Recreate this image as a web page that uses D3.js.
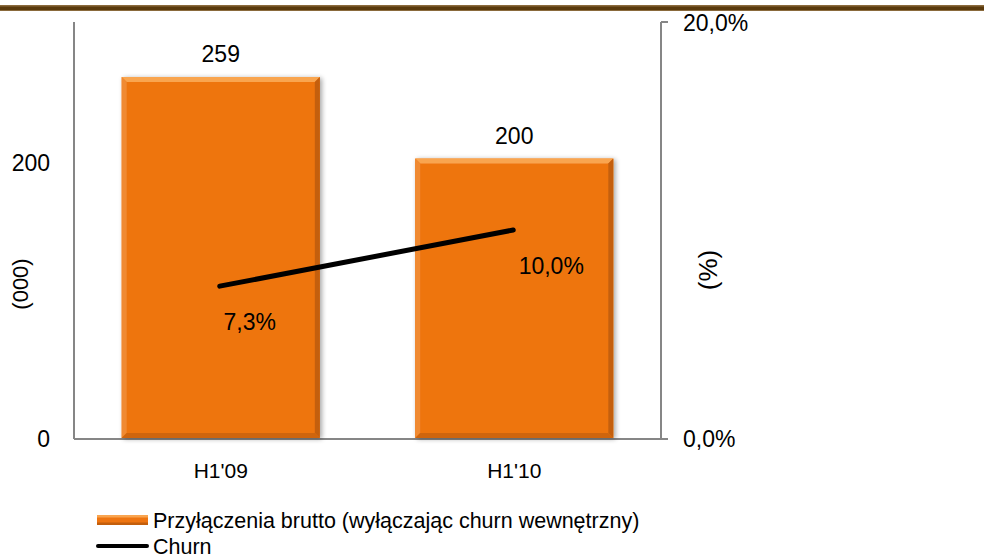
<!DOCTYPE html>
<html>
<head>
<meta charset="utf-8">
<script src="https://cdn.jsdelivr.net/npm/d3@7/dist/d3.min.js"></script>
<style>
  body { margin: 0; background: #fff; }
  text { font-family: "Liberation Sans", Arial, sans-serif; fill: #000; }
</style>
</head>
<body>
<svg id="chart" width="984" height="558"></svg>
<script>
// data
const categories = ["H1'09", "H1'10"];
const grossAdds = [259, 200];
const churn = [7.3, 10.0];
const leftTicks = [0, 200];
const rightTicks = [0, 20];
const barName = "Przyłączenia brutto (wyłączając churn wewnętrzny)";
const lineName = "Churn";

const svg = d3.select("#chart");
const plot = {left: 74, right: 661, top: 22, bottom: 438};

// brown header rule
svg.append("rect").attr("x", 0).attr("y", 5).attr("width", 984).attr("height", 6).attr("fill", "#8a6a3c");
svg.append("rect").attr("x", 0).attr("y", 6.5).attr("width", 984).attr("height", 3.5).attr("fill", "#5a3a0c");

let x = d3.scaleBand()
    .domain(categories)
    .range([plot.left, plot.right])
    .paddingInner(0.325)
    .paddingOuter(0.1625);
let yL = d3.scaleLinear().domain([0, 301]).range([plot.bottom, plot.top]);
let yR = d3.scaleLinear().domain([0, 20]).range([plot.bottom, plot.top]);

let defs = svg.append("defs");
let fl = defs.append("filter").attr("id", "shadow").attr("x", "-10%").attr("y", "-10%").attr("width", "130%").attr("height", "130%");
fl.append("feGaussianBlur").attr("in", "SourceAlpha").attr("stdDeviation", 2.5);
fl.append("feOffset").attr("dx", 2).attr("dy", 1).attr("result", "b");
fl.append("feComponentTransfer").append("feFuncA").attr("type", "linear").attr("slope", 0.35);
let fm = fl.append("feMerge");
fm.append("feMergeNode");
fm.append("feMergeNode").attr("in", "SourceGraphic");

// axes lines
let axes = svg.append("g").attr("stroke", "#868686").attr("stroke-width", 2).attr("fill", "none");
axes.append("line").attr("x1", plot.left).attr("x2", plot.left).attr("y1", plot.top).attr("y2", plot.bottom + 1);
axes.append("line").attr("x1", plot.right).attr("x2", plot.right).attr("y1", plot.top).attr("y2", plot.bottom + 1);
axes.append("line").attr("x1", plot.left).attr("x2", plot.right + 7).attr("y1", plot.bottom + 1).attr("y2", plot.bottom + 1);
axes.append("line").attr("x1", plot.right).attr("x2", plot.right + 7).attr("y1", plot.top).attr("y2", plot.top);

// bars with bevel
let bars = svg.append("g").selectAll("g").data(grossAdds).enter().append("g")
    .attr("filter", "url(#shadow)");
bars.each(function (d, i) {
    let g = d3.select(this);
    let x0 = x(categories[i]), w = x.bandwidth();
    let y0 = yL(d) - 3, y1 = plot.bottom;
    let b = 5;
    g.append("rect").attr("x", x0).attr("y", y0).attr("width", w).attr("height", y1 - y0).attr("fill", "#ee7511");
    g.append("polygon").attr("points", [[x0, y0], [x0 + w, y0], [x0 + w - b, y0 + b], [x0 + b, y0 + b]].join(" ")).attr("fill", "#f9a550");
    g.append("polygon").attr("points", [[x0, y0], [x0 + b, y0 + b], [x0 + b, y1 - b], [x0, y1]].join(" ")).attr("fill", "#f08a30");
    g.append("polygon").attr("points", [[x0 + w, y0], [x0 + w, y1], [x0 + w - b, y1 - b], [x0 + w - b, y0 + b]].join(" ")).attr("fill", "#c45f0c");
    g.append("polygon").attr("points", [[x0, y1], [x0 + w, y1], [x0 + w - b, y1 - b], [x0 + b, y1 - b]].join(" ")).attr("fill", "#cf650e");
});

// bar value labels
svg.append("g").selectAll("text").data(grossAdds).enter().append("text")
    .attr("x", (d, i) => x(categories[i]) + x.bandwidth() / 2)
    .attr("y", d => yL(d) - 18)
    .attr("text-anchor", "middle")
    .style("font-size", "23px")
    .text(d => d);

// churn line
let line = d3.line()
    .x((d, i) => x(categories[i]) + x.bandwidth() / 2 - 1)
    .y(d => yR(d));
svg.append("path").datum(churn).attr("d", line)
    .attr("fill", "none").attr("stroke", "#000").attr("stroke-width", 5).attr("stroke-linecap", "round");

svg.append("g").selectAll("text").data(churn).enter().append("text")
    .attr("x", (d, i) => x(categories[i]) + x.bandwidth() / 2 + 29 + i * 8)
    .attr("y", d => yR(d) + 44)
    .attr("text-anchor", "middle")
    .style("font-size", "23px")
    .text(d => d3.format(".1f")(d).replace(".", ",") + "%");

// left ticks
svg.append("g").selectAll("text").data(leftTicks).enter().append("text")
    .attr("x", 50).attr("y", d => yL(d) + 9)
    .attr("text-anchor", "end")
    .style("font-size", "23px")
    .text(d => d);

// right ticks
svg.append("g").selectAll("text").data(rightTicks).enter().append("text")
    .attr("x", 683).attr("y", d => yR(d) + 9)
    .style("font-size", "23px")
    .text(d => d3.format(".1f")(d).replace(".", ",") + "%");

// category labels
svg.append("g").selectAll("text").data(categories).enter().append("text")
    .attr("x", d => x(d) + x.bandwidth() / 2)
    .attr("y", 478)
    .attr("text-anchor", "middle")
    .style("font-size", "21px")
    .text(d => d);

// axis titles
svg.append("text").attr("transform", "translate(28,284) rotate(-90)")
    .attr("text-anchor", "middle").style("font-size", "22px").text("(000)");
svg.append("text").attr("transform", "translate(717,270) rotate(-90)")
    .attr("text-anchor", "middle").style("font-size", "26px").text("(%)");

// legend
let lg = svg.append("g");
lg.append("rect").attr("x", 97).attr("y", 515).attr("width", 51).attr("height", 10).attr("fill", "#ee7511");
lg.append("rect").attr("x", 97).attr("y", 515).attr("width", 51).attr("height", 2.5).attr("fill", "#f9a550");
lg.append("rect").attr("x", 97).attr("y", 522.5).attr("width", 51).attr("height", 2.5).attr("fill", "#c45f0c");
lg.append("text").attr("x", 153).attr("y", 528).style("font-size", "21.5px").text(barName);
lg.append("line").attr("x1", 98).attr("x2", 147).attr("y1", 546).attr("y2", 546)
    .attr("stroke", "#000").attr("stroke-width", 4).attr("stroke-linecap", "round");
lg.append("text").attr("x", 153).attr("y", 554).style("font-size", "21.5px").text(lineName);
</script>
</body>
</html>
